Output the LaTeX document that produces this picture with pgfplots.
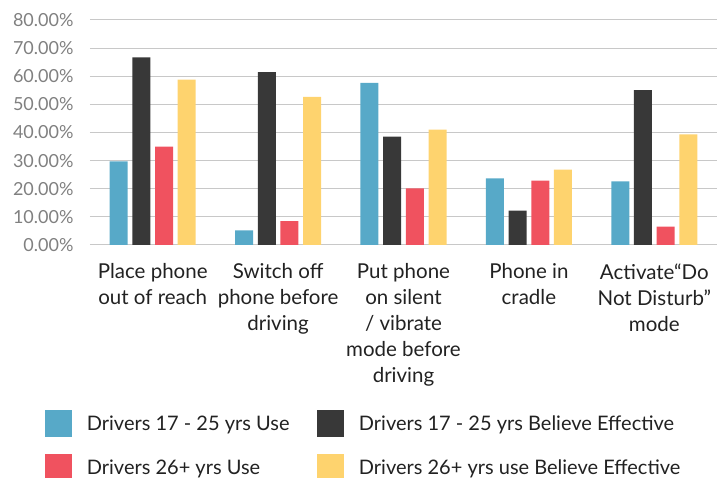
\documentclass[border=0pt]{standalone}
\usepackage{pgfplots}
\pgfplotsset{compat=1.18}
\usepackage{fontspec}
\setmainfont{Lato}
\definecolor{cblue}{HTML}{57A9C8}
\definecolor{cblack}{HTML}{383838}
\definecolor{cred}{HTML}{F0525F}
\definecolor{cyellow}{HTML}{FED36E}
\definecolor{cgrid}{HTML}{C8C8C8}
\definecolor{ctick}{HTML}{808080}
\definecolor{ctext}{HTML}{222222}
\begin{document}
\begin{tikzpicture}
\begin{axis}[
  scale only axis,
  width=627pt, height=225pt,
  xmin=-0.5, xmax=4.5,
  ymin=0, ymax=80,
  ybar=4.7pt, bar width=18pt,
  axis line style={draw=none},
  major tick length=0pt,
  ytick={0,10,...,80},
  ymajorgrids, grid style={cgrid, line width=1pt},
  yticklabel={\pgfmathprintnumber[fixed,fixed zerofill,precision=2]{\tick}\%},
  /pgf/number format/assume math mode=true,
  yticklabel style={font=\fontsize{18}{19}\selectfont, text=ctick, xshift=-13pt},
  xtick={0,1,2,3,4},
  xticklabels={{Place phone\\out of reach},{Switch off\\phone before\\driving},{Put phone\\on silent\\/ vibrate\\mode before\\driving},{Phone in\\cradle},{Activate“Do\\Not Disturb”\\mode}},
  xticklabel style={align=center, font=\fontsize{20.5}{26}\selectfont, text=ctext, yshift=-15pt},
  legend columns=2,
  legend cell align=left,
  legend style={at={(rel axis cs:-0.07177,-0.7333)}, anchor=north west, draw=none, inner sep=0pt,
    nodes={font=\fontsize{20}{22}\selectfont, text=ctext, inner xsep=14.7pt},
    /tikz/column 2/.style={column sep=13pt},
    row sep=17pt},
  legend image code/.code={\fill[#1] (0pt,-13.5pt) rectangle (27pt,13.5pt);},
]
\addplot[fill=cblue, draw=none] coordinates {(0,29.7) (1,5.2) (2,57.6) (3,23.7) (4,22.6)};
\addplot[fill=cblack, draw=none] coordinates {(0,66.7) (1,61.5) (2,38.5) (3,12.2) (4,55.1)};
\addplot[fill=cred, draw=none] coordinates {(0,35.0) (1,8.5) (2,20.1) (3,22.9) (4,6.5)};
\addplot[fill=cyellow, draw=none] coordinates {(0,58.8) (1,52.7) (2,41.0) (3,26.8) (4,39.3)};
\legend{Drivers 17 - 25 yrs Use, Drivers 17 - 25 yrs Believe Effective, Drivers 26+ yrs Use, Drivers 26+ yrs use Believe Effective}
\end{axis}
\pgfresetboundingbox
\path (-90pt,-233pt) rectangle (636pt,245pt);
\end{tikzpicture}
\end{document}
